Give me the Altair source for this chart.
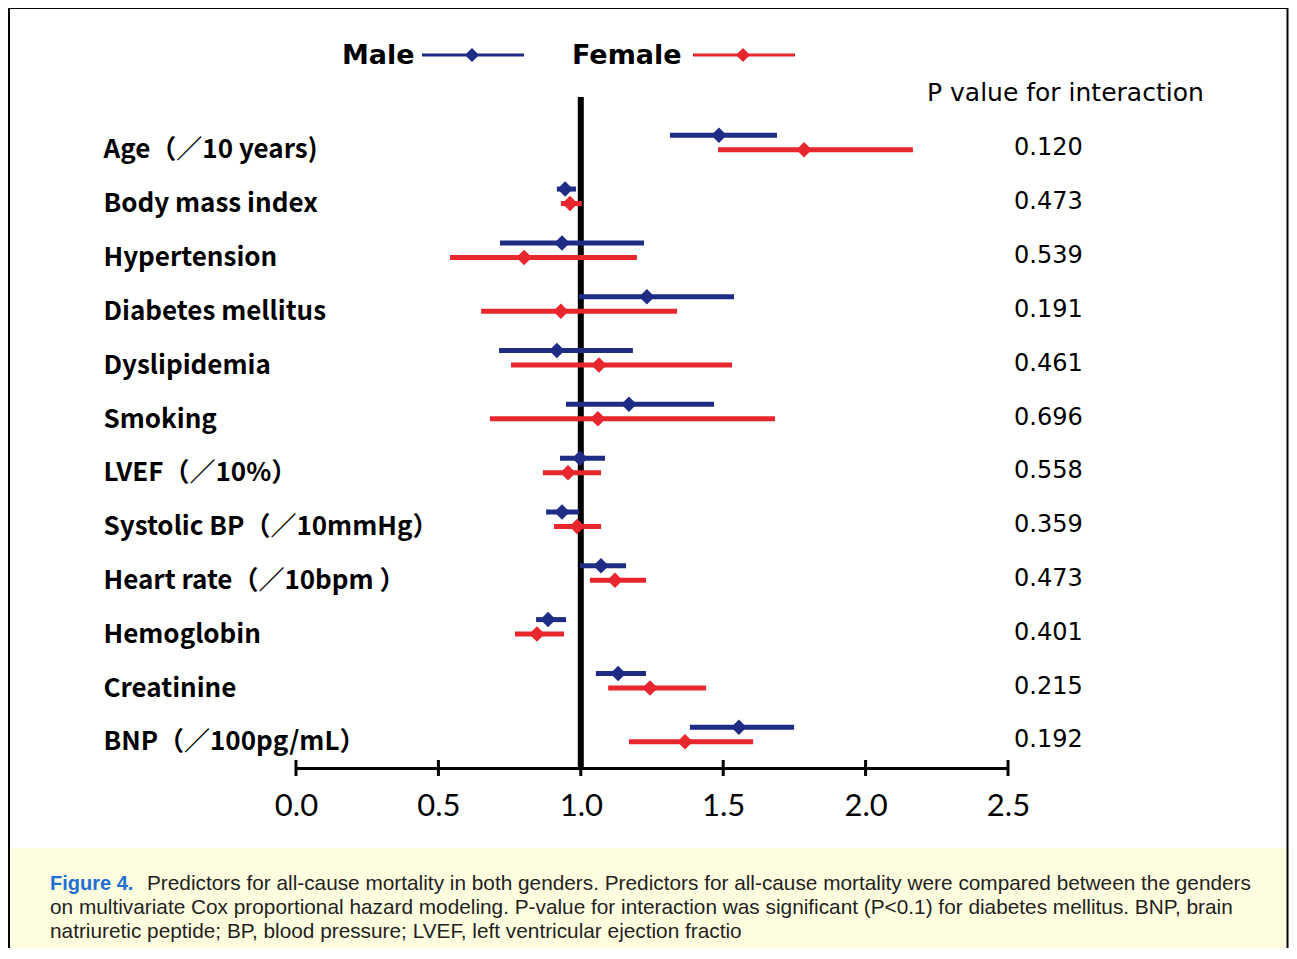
import altair as alt
import pandas as pd

# ---------------- data ----------------
labels = ["Age（／10 years)", "Body mass index", "Hypertension", "Diabetes mellitus",
          "Dyslipidemia", "Smoking", "LVEF（／10%）", "Systolic BP（／10mmHg）",
          "Heart rate（／10bpm ）", "Hemoglobin", "Creatinine", "BNP（／100pg/mL）"]
male_hr = [1.485, 0.945, 0.934, 1.232, 0.916, 1.169, 0.997, 0.934, 1.071, 0.885, 1.131, 1.555]
male_lo = [1.313, 0.916, 0.716, 0.994, 0.713, 0.948, 0.927, 0.878, 0.997, 0.843, 1.053, 1.383]
male_hi = [1.689, 0.983, 1.222, 1.538, 1.183, 1.468, 1.085, 0.994, 1.159, 0.948, 1.229, 1.749]
female_hr = [1.784, 0.962, 0.801, 0.930, 1.064, 1.060, 0.955, 0.987, 1.120, 0.846, 1.243, 1.366]
female_lo = [1.482, 0.930, 0.541, 0.650, 0.755, 0.681, 0.867, 0.906, 1.032, 0.769, 1.096, 1.169]
female_hi = [2.166, 1.004, 1.197, 1.338, 1.531, 1.682, 1.071, 1.071, 1.229, 0.941, 1.440, 1.605]
p_values = ["0.120", "0.473", "0.539", "0.191", "0.461", "0.696",
            "0.558", "0.359", "0.473", "0.401", "0.215", "0.192"]
sexes = ["Male", "Female"]
x_ticks = [0.0, 0.5, 1.0, 1.5, 2.0, 2.5]
p_header = "P value for interaction"
caption_title = "Figure 4."
caption_lines = [
    "Predictors for all-cause mortality in both genders. Predictors for all-cause mortality were compared between the genders",
    "on multivariate Cox proportional hazard modeling. P-value for interaction was significant (P<0.1) for diabetes mellitus. BNP, brain",
    "natriuretic peptide; BP, blood pressure; LVEF, left ventricular ejection fractio",
]

NAVY = "#1e2c86"
RED = "#e8262e"
LABEL_FONT = "Noto Sans CJK JP"
CAP_FONT = "Liberation Sans, Arial"

rows = []
for i, lab in enumerate(labels):
    rows.append({"label": lab, "sex": "Male", "hr": male_hr[i], "lo": male_lo[i], "hi": male_hi[i]})
    rows.append({"label": lab, "sex": "Female", "hr": female_hr[i], "lo": female_lo[i], "hi": female_hi[i]})
df = pd.DataFrame(rows)
pdf = pd.DataFrame({"label": labels, "p": p_values})
tdf = pd.DataFrame({"t": x_ticks})
one = pd.DataFrame({"k": [0]})

xscale = alt.Scale(domain=[0, 2.5], nice=False, zero=False)
xaxis = alt.Axis(values=x_ticks, format=".1f", ticks=False, tickSize=0, grid=False, title=None,
                 domainColor="black", domainWidth=3, labelFont="Lato", labelFontSize=31,
                 labelColor="black", labelPadding=23, labelFlush=False)
yscale = alt.Scale(type="band", domain=labels, paddingInner=0, paddingOuter=0.234, align=0.738)
yaxis = alt.Axis(title=None, domain=False, ticks=False, tickSize=0, grid=False,
                 labelAlign="left", labelPadding=193, labelFont=LABEL_FONT,
                 labelFontWeight="bold", labelFontSize=26, labelLimit=400,
                 labelColor="black", labelOffset=8, labelBaseline="middle")
Y = alt.Y("label:N", scale=yscale, axis=yaxis, sort=labels)
YO = alt.YOffset("sex:N", sort=sexes,
                 scale=alt.Scale(domain=sexes, paddingInner=0, paddingOuter=0.855))
C = alt.Color("sex:N", scale=alt.Scale(domain=sexes, range=[NAVY, RED]), legend=None)

base = alt.Chart(df)

cap_bg = alt.Chart(one).mark_rect(fill="#fffde0", stroke=None).encode(
    x=alt.value(-288), x2=alt.value(993), y=alt.value(751), y2=alt.value(870))
frame = alt.Chart(one).mark_rect(filled=False, stroke="black", strokeWidth=2).encode(
    x=alt.value(-287), x2=alt.value(991.5), y=alt.value(-89), y2=alt.value(880))

vline = alt.Chart(one).mark_rule(color="black", strokeWidth=6).encode(
    x=alt.datum(1.0, scale=xscale))

ci = base.mark_rule(strokeWidth=5).encode(
    x=alt.X("lo:Q", scale=xscale, axis=xaxis), x2="hi:Q", y=Y, yOffset=YO, color=C)
pts = base.mark_point(shape="diamond", filled=True, size=240, opacity=1).encode(
    x="hr:Q", y=Y, yOffset=YO, color=C)

ticks = alt.Chart(tdf).mark_rule(color="black", strokeWidth=3).encode(
    x=alt.X("t:Q", scale=xscale), y=alt.value(663), y2=alt.value(679))

ptxt = alt.Chart(pdf).mark_text(align="left", baseline="middle", font="DejaVu Sans",
                                fontSize=24, color="black", dy=6).encode(
    x=alt.value(718), y=Y, text="p:N")
phead = alt.Chart(one).mark_text(align="left", baseline="middle", font="DejaVu Sans",
                                 fontSize=25, color="black", text=p_header).encode(
    x=alt.value(631), y=alt.value(-4))

# legend
leg_layers = []
leg_pos = {"Male": (46, 126, 228, 176, NAVY), "Female": (276, 397, 499, 447, RED)}
for s in sexes:
    tx, l0, l1, dx, col = leg_pos[s]
    leg_layers.append(alt.Chart(one).mark_text(align="left", baseline="middle",
                      font="DejaVu Sans", fontWeight="bold", fontSize=27,
                      color="black", text=s).encode(x=alt.value(tx), y=alt.value(-41)))
    leg_layers.append(alt.Chart(one).mark_rule(color=col, strokeWidth=3).encode(
        x=alt.value(l0), x2=alt.value(l1), y=alt.value(-42)))
    leg_layers.append(alt.Chart(one).mark_point(shape="diamond", filled=True, size=200,
                      opacity=1, color=col).encode(x=alt.value(dx), y=alt.value(-42)))

# caption
cap_layers = [alt.Chart(one).mark_text(align="left", baseline="middle", font=CAP_FONT,
              fontWeight="bold", fontSize=20, color="#1f6fd0", text=caption_title).encode(
              x=alt.value(-246), y=alt.value(787))]
cap_x = [-149, -246, -246]
cap_y = [787, 811, 835]
for i, line in enumerate(caption_lines):
    cap_layers.append(alt.Chart(one).mark_text(align="left", baseline="middle", font=CAP_FONT,
                      fontSize=20.8, color="#231f20", text=line).encode(
                      x=alt.value(cap_x[i]), y=alt.value(cap_y[i])))

chart = alt.layer(cap_bg, frame, vline, ci, pts, ticks, ptxt, phead,
                  *leg_layers, *cap_layers).properties(
    width=712, height=671,
    autosize=alt.AutoSizeParams(type="none"),
    padding={"left": 288, "top": 89, "right": 281, "bottom": 180},
    background="white",
).configure_view(stroke=None)

chart.save("out.html", embed_options={"renderer": "svg", "actions": False})
